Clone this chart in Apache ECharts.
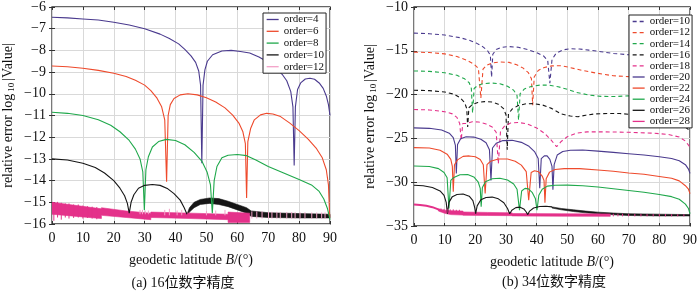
<!DOCTYPE html>
<html><head><meta charset="utf-8">
<script src="https://cdn.jsdelivr.net/npm/echarts@6/dist/echarts.min.js"></script>
<style>html,body{margin:0;padding:0;background:#fff}#c{width:700px;height:292px}</style>
</head><body><div id="c"></div>
<script>
// ---------- (a) 16-digit precision ----------
const xTicks = [0, 10, 20, 30, 40, 50, 60, 70, 80, 90];
const A_o4 = [[0,-6.47],[5,-6.5],[10,-6.55],[15,-6.6],[20,-6.7],[25,-6.83],[30,-7.0],[35,-7.25],[38,-7.45],[41,-7.7],[43,-7.95],[45,-8.25],[46.5,-8.55],[47.5,-8.95],[48.1,-9.6],[48.5,-13.2],[48.9,-9.6],[49.5,-8.9],[50.3,-8.5],[52,-8.2],[55,-8.03],[58,-8.0],[61,-8.05],[64,-8.12],[67,-8.3],[70,-8.55],[72.5,-8.8],[74.5,-9.1],[76,-9.4],[77.3,-9.9],[78,-10.6],[78.4,-13.3],[78.8,-10.6],[79.5,-9.8],[80.5,-9.5],[82,-9.32],[83.5,-9.28],[85,-9.33],[86.5,-9.5],[87.8,-9.75],[88.8,-10.1],[89.5,-10.5],[90,-11.0]];
const A_o6 = [[0,-8.72],[5,-8.75],[10,-8.82],[15,-8.92],[20,-9.05],[24,-9.2],[27,-9.38],[30,-9.6],[32,-9.85],[34,-10.2],[35.5,-10.6],[36.5,-11.2],[37.1,-14.05],[37.6,-11.0],[38.3,-10.5],[39.5,-10.22],[41.5,-10.05],[44,-10.0],[47,-10.05],[50,-10.18],[53,-10.38],[56,-10.65],[58.5,-10.98],[60.5,-11.35],[61.8,-11.75],[62.6,-12.3],[63.0,-14.8],[63.4,-12.2],[64.3,-11.6],[65.5,-11.2],[67.5,-10.97],[69.5,-10.9],[71.5,-10.93],[74,-11.05],[77,-11.35],[80,-11.7],[83,-12.1],[85.5,-12.5],[87.5,-12.95],[88.8,-13.5],[89.5,-14.2],[89.9,-15.7]];
const A_o8 = [[0,-10.85],[5,-10.9],[10,-11.0],[15,-11.2],[19,-11.45],[22,-11.75],[25,-12.15],[27,-12.55],[28.5,-13.0],[29.4,-13.6],[29.9,-15.35],[30.4,-13.5],[31.2,-12.9],[32.5,-12.45],[34.5,-12.2],[37,-12.1],[40,-12.15],[43,-12.35],[46,-12.7],[48.5,-13.1],[50.2,-13.6],[51.3,-14.2],[51.9,-15.5],[52.5,-14.0],[53.4,-13.35],[55,-12.95],[57,-12.83],[60,-12.8],[63,-12.85],[66,-13.05],[70,-13.35],[75,-13.65],[80,-13.95],[84,-14.2],[86.5,-14.5],[88,-14.85],[89.2,-15.3],[90,-15.8]];
const A_o10 = [[0,-13.0],[5,-13.05],[10,-13.2],[14,-13.4],[17,-13.65],[20,-14.0],[22,-14.35],[23.5,-14.7],[24.4,-15.05],[25,-15.5],[25.6,-15.0],[26.5,-14.65],[28,-14.35],[30,-14.22],[32.5,-14.18],[35,-14.22],[37.5,-14.38],[39.5,-14.6],[41.5,-14.9],[42.8,-15.25],[43.7,-15.55]];
const A_o10BandUp = [[43.7,-15.55],[44.5,-15.25],[46,-15.0],[48,-14.87],[51,-14.8],[54,-14.83],[57,-14.95],[60,-15.1],[63,-15.25],[64.5,-15.4],[70,-15.48],[80,-15.52],[90,-15.55]];
const A_o10BandLo = [[43.7,-15.6],[44.5,-15.45],[46,-15.25],[48,-15.1],[51,-15.05],[54,-15.1],[57,-15.2],[60,-15.35],[63,-15.5],[64.5,-15.65],[70,-15.7],[80,-15.72],[90,-15.72]];
const A_o12BandUp = [[0,-15.0],[8,-15.15],[16,-15.3],[16,-15.25],[24,-15.4],[32,-15.5],[32,-15.45],[45,-15.5],[57,-15.55],[57,-15.45],[64,-15.5]];
const A_o12BandLo = [[0,-15.55],[8,-15.65],[16,-15.75],[16,-15.6],[24,-15.7],[32,-15.8],[32,-15.7],[45,-15.75],[57,-15.8],[57,-15.93],[64,-15.93]];
const A_o12EdgeSpikes = [[0.6,-15.0,-15.85],[1.8,-14.98,-15.7],[3.0,-15.02,-15.8],[4.3,-15.05,-15.7],[5.5,-15.05,-15.75],[7,-15.1,-15.72],[8.5,-15.1,-15.7],[10,-15.15,-15.75],[11.5,-15.18,-15.72],[13,-15.2,-15.75],[14.5,-15.22,-15.78]];
const A_o12Spikes = [[28.5,-15.35,-15.55],[29.3,-15.35,-15.55],[30.2,-15.38,-15.55],[31.2,-15.38,-15.55],[36.5,-15.35,-15.6],[38,-15.3,-15.6],[40.5,-15.38,-15.6],[42,-15.35,-15.6],[50,-15.4,-15.6],[53,-15.38,-15.6],[56,-15.35,-15.6],[64.7,-15.42,-15.75],[66.3,-15.42,-15.75],[68,-15.42,-15.75],[70.1,-15.44,-15.75],[71.2,-15.44,-15.75],[72.8,-15.44,-15.75],[73.9,-15.45,-15.75],[76,-15.45,-15.75],[77.6,-15.45,-15.75],[78.7,-15.46,-15.75],[80.3,-15.46,-15.75],[81.9,-15.46,-15.75],[84.1,-15.47,-15.75],[85.7,-15.47,-15.75],[87.3,-15.47,-15.75],[88.4,-15.47,-15.75]];

// ---------- (b) 34-digit precision ----------
const B_o10 = [[0,-12.98],[5,-13.05],[10,-13.2],[15,-13.5],[18,-13.8],[20.5,-14.15],[22.5,-14.55],[24,-15.0],[24.9,-15.5],[25.3,-18.0],[25.7,-15.4],[26.8,-14.85],[28.5,-14.6],[31,-14.52],[34,-14.6],[37,-14.85],[40,-15.2],[42.3,-15.6],[43.6,-16.1],[44.3,-18.7],[45,-16.0],[46.3,-15.3],[48.5,-14.9],[51,-14.77],[54,-14.8],[57,-14.92],[61,-15.1],[65,-15.3],[70,-15.45],[75,-15.63],[80,-15.82],[84,-16.05],[86.5,-16.3],[88.5,-16.7],[89.5,-17.1],[90,-17.5]];
const B_o12 = [[0,-15.15],[5,-15.2],[10,-15.35],[14,-15.65],[17,-16.05],[19.5,-16.5],[21,-17.0],[21.8,-20.4],[22.5,-17.1],[23.7,-16.65],[25.5,-16.38],[28,-16.28],[31,-16.32],[33.5,-16.6],[35.5,-16.95],[37.3,-17.5],[38.3,-18.2],[38.7,-21.2],[39.2,-18.0],[40.5,-17.25],[42.5,-16.9],[45,-16.72],[48,-16.7],[51,-16.92],[55,-17.25],[60,-17.58],[65,-17.85],[70,-17.95],[75,-17.88],[80,-17.75],[84,-17.85],[87,-18.25],[89,-18.9],[90,-19.4]];
const B_o14 = [[0,-17.3],[5,-17.35],[10,-17.5],[14,-17.8],[16.5,-18.2],[18,-18.65],[18.7,-19.3],[19.1,-22.1],[19.6,-19.3],[20.8,-18.95],[22.5,-18.75],[25,-18.68],[28,-18.75],[30.5,-19.05],[32.5,-19.5],[33.6,-20.1],[34.1,-22.9],[34.6,-19.9],[36,-19.35],[38.5,-19.05],[41,-18.92],[44,-18.92],[47,-19.1],[50,-19.4],[53,-19.75],[57,-20.05],[61,-20.2],[65,-20.22],[70,-20.15],[75,-20.2],[80,-20.35],[84,-20.55],[87,-20.85],[89,-21.3],[90,-21.7]];
const B_o16 = [[0,-19.5],[5,-19.55],[10,-19.7],[13,-19.95],[15,-20.35],[16.5,-20.9],[17.2,-21.6],[17.5,-23.7],[17.9,-21.5],[19,-21.15],[20.8,-20.9],[23,-20.8],[25.5,-20.85],[27.5,-21.1],[29.2,-21.6],[30,-22.3],[30.4,-26.3],[30.8,-22.2],[32,-21.65],[34,-21.25],[36.5,-21.05],[39,-21.03],[42,-21.2],[45,-21.6],[48,-22.2],[51,-22.45],[53.5,-22.52],[56,-22.35],[59,-22.2],[63,-22.15],[67,-22.15],[72,-22.3],[78,-22.6],[84,-23.0],[88,-23.6],[90,-24.1]];
const B_o18 = [[0,-21.7],[5,-21.75],[10,-21.95],[12.5,-22.2],[14,-22.6],[14.9,-23.3],[15.4,-25.2],[15.9,-23.3],[17,-23.3],[19,-23.1],[21,-23.12],[23.5,-23.35],[25.5,-23.7],[26.8,-24.3],[27.5,-27.9],[28.2,-24.2],[29.5,-23.6],[31.5,-23.25],[34,-23.18],[37,-23.35],[40,-23.8],[42.5,-24.4],[44.5,-25.1],[46.5,-25.95],[48,-25.35],[50,-24.8],[53,-24.4],[56.5,-24.25],[62,-24.25],[70,-24.3],[78,-24.4],[83,-24.55],[86.5,-24.85],[88.5,-25.3],[90,-26.0]];
const B_o20 = [[0,-23.8],[5,-23.85],[9,-24.05],[11.5,-24.4],[12.8,-24.9],[13.5,-25.8],[13.8,-29.0],[14.2,-25.7],[15.2,-25.05],[17,-24.82],[19.5,-24.85],[21.8,-25.1],[23.5,-25.5],[24.6,-26.3],[25.1,-29.8],[25.6,-26.1],[26.8,-25.55],[29,-25.25],[32,-25.22],[35,-25.45],[37.5,-25.9],[39.3,-26.5],[40.5,-27.3],[41.0,-30.7],[41.5,-27.3],[42.5,-27.0],[43.4,-27.0],[44.3,-27.4],[45.0,-28.2],[45.3,-30.85],[45.7,-28.0],[46.7,-26.9],[48.5,-26.5],[51,-26.35],[55,-26.33],[60,-26.45],[65,-26.6],[70,-26.75],[75,-26.9],[80,-27.1],[84,-27.3],[86.5,-27.55],[88.5,-28.0],[89.5,-28.5],[90,-29.0]];
const B_o22 = [[0,-26.05],[5,-26.1],[8.5,-26.35],[10.8,-26.8],[12.0,-27.4],[12.5,-28.2],[12.8,-31.1],[13.2,-28.0],[14.2,-27.45],[16,-27.05],[18,-27.0],[20,-27.1],[21.6,-27.4],[22.6,-28.0],[23.2,-31.3],[23.8,-28.0],[25,-27.6],[27.5,-27.35],[30.5,-27.35],[33,-27.6],[35,-28.05],[36.6,-28.8],[37.4,-32.05],[38.2,-28.9],[39.3,-28.7],[40.6,-28.8],[41.8,-29.3],[42.4,-29.8],[42.7,-32.35],[43.1,-29.6],[44.2,-28.85],[46,-28.55],[49,-28.45],[54,-28.45],[60,-28.6],[65,-28.75],[70,-28.95],[75,-29.1],[80,-29.35],[84,-29.55],[86.5,-29.85],[88.5,-30.4],[89.5,-30.8],[90,-31.3]];
const B_o24 = [[0,-28.15],[5,-28.2],[8,-28.45],[9.8,-28.9],[10.8,-29.5],[11.4,-33.0],[12.0,-29.8],[13,-29.45],[15,-29.15],[17.5,-29.12],[19.5,-29.4],[20.9,-29.95],[21.6,-30.7],[21.9,-32.8],[22.3,-30.6],[23.3,-29.95],[25.5,-29.6],[28,-29.55],[30.5,-29.75],[32.5,-30.2],[33.6,-30.8],[34.4,-33.2],[35.1,-31.0],[36.2,-30.7],[37.3,-30.75],[38.6,-31.2],[39.6,-31.9],[40.1,-33.2],[40.7,-31.5],[41.8,-30.8],[43.5,-30.45],[46,-30.35],[50,-30.33],[55,-30.4],[60,-30.55],[65,-30.75],[70,-30.95],[75,-31.15],[80,-31.4],[84,-31.65],[86.5,-31.95],[88.5,-32.5],[89.5,-33.0],[90,-33.6]];
const B_o26 = [[0,-30.35],[3,-30.4],[6,-30.6],[8.5,-31.0],[9.8,-31.5],[10.5,-32.3],[10.9,-33.6],[11.4,-32.3],[12.5,-31.65],[14,-31.4],[16,-31.35],[18,-31.6],[19.2,-32.1],[19.8,-32.9],[20.1,-33.6],[20.6,-32.7],[21.8,-32.0],[23.5,-31.75],[25.5,-31.7],[27.5,-31.9],[29.3,-32.35],[30.5,-33.0],[31.2,-33.6],[31.9,-33.2],[33.2,-32.9],[34.6,-32.85],[35.8,-33.05],[36.6,-33.4],[37.1,-33.7],[37.7,-33.3],[39,-32.95],[41,-32.78],[43,-32.75],[45,-32.82]];
const B_o26BandUp = [[45,-32.82],[48,-33.0],[52,-33.15],[56,-33.3],[60,-33.42],[65,-33.52],[70,-33.6],[80,-33.65],[90,-33.7]];
const B_o26BandLo = [[45,-32.95],[48,-33.15],[52,-33.35],[56,-33.5],[60,-33.6],[65,-33.72],[70,-33.8],[80,-33.85],[90,-33.85]];
const B_o28 = [[0,-32.55],[2,-32.6],[4,-32.7],[6,-32.85],[7.5,-33.05],[8.5,-33.2]];
const B_o28BandUp = [[8,-33.05],[10,-33.2],[12,-33.25],[16,-33.3],[16,-33.4],[24,-33.45],[32,-33.5],[32,-33.58],[48,-33.6],[64,-33.62]];
const B_o28BandLo = [[8,-33.3],[10,-33.55],[12,-33.7],[16,-33.75],[16,-33.78],[24,-33.8],[32,-33.82],[32,-33.85],[48,-33.88],[64,-33.9]];
const B_o28Spikes = [[8.8,-33.0,-33.4],[9.8,-33.05,-33.5],[10.8,-33.05,-33.5],[11.8,-33.1,-33.6],[12.8,-33.1,-33.6],[13.8,-33.15,-33.6],[14.8,-33.15,-33.65],[65,-33.6,-33.9],[66.5,-33.6,-33.9],[68,-33.6,-33.9],[70,-33.62,-33.9],[72,-33.62,-33.9],[74,-33.62,-33.9],[76,-33.64,-33.9],[78,-33.64,-33.9],[80,-33.64,-33.9],[82,-33.64,-33.9],[84,-33.66,-33.9],[86,-33.66,-33.9],[88,-33.66,-33.9]];

const PURPLE = '#4a3a8e', RED = '#ee4a2c', GREEN = '#1fa84b', BLACK = '#161616', PINK = '#e4318a', LPINK = '#f3a2c8';
const FONT = '"Liberation Serif", "Noto Sans CJK SC", serif';
const minus = v => (v < 0 ? '\u2212' + Math.abs(v) : String(v));

function line(name, gi, data, color, dashed, width) {
  return { type: 'line', name, xAxisIndex: gi, yAxisIndex: gi, data, symbol: 'none', clip: true,
    lineStyle: { color, width: width || 1.1, type: dashed ? [4, 3] : 'solid' }, itemStyle: { color }, z: 3 };
}
function band(name, gi, up, lo, color) {
  return { type: 'custom', name, xAxisIndex: gi, yAxisIndex: gi, coordinateSystem: 'cartesian2d', clip: true, silent: true, z: 3,
    data: [up[0]],
    renderItem: (p, api) => {
      const pts = up.map(q => api.coord(q)).concat(lo.slice().reverse().map(q => api.coord(q)));
      return { type: 'polygon', shape: { points: pts }, style: { fill: color, stroke: color, lineWidth: 0.6 } };
    } };
}
function spikes(name, gi, data, color) {
  return { type: 'custom', name, xAxisIndex: gi, yAxisIndex: gi, coordinateSystem: 'cartesian2d', clip: true, silent: true, z: 4,
    data, encode: { x: 0, y: [1, 2] },
    renderItem: (p, api) => {
      const a = api.coord([api.value(0), api.value(1)]), b = api.coord([api.value(0), api.value(2)]);
      return { type: 'line', shape: { x1: a[0], y1: a[1], x2: b[0], y2: b[1] }, style: { stroke: color, lineWidth: 1 } };
    } };
}
function xAx(gi, top) {
  return { type: 'value', gridIndex: gi, min: 0, max: 90, interval: 10, position: top ? 'top' : 'bottom',
    axisLine: { show: false }, axisTick: { show: true, inside: true, length: 3, lineStyle: { color: '#333' } },
    axisLabel: { show: !top, fontSize: 14, fontFamily: FONT, color: '#111', margin: 7, formatter: minus },
    splitLine: { show: !top, lineStyle: { color: '#d9d9d9', width: 1 } },
    name: top ? '' : 'geodetic latitude {i|B}/(°)', nameLocation: 'middle', nameGap: 29,
    nameTextStyle: { fontSize: 14, fontFamily: FONT, color: '#111', rich: { i: { fontSize: 14, fontFamily: FONT, fontStyle: 'italic', color: '#111' } } } };
}
function yAx(gi, right, min, max, iv) {
  return { type: 'value', gridIndex: gi, min, max, interval: iv, position: right ? 'right' : 'left',
    axisLine: { show: false }, axisTick: { show: true, inside: true, length: 3, lineStyle: { color: '#333' } },
    axisLabel: { show: !right, fontSize: 14, fontFamily: FONT, color: '#111', margin: 6, formatter: minus },
    splitLine: { show: !right, lineStyle: { color: '#d9d9d9', width: 1 } },
    name: right ? '' : '{a|relative error log}{s|10}{a||Value|}', nameLocation: 'middle', nameGap: 36,
    nameTextStyle: { fontFamily: FONT, color: '#111', rich: {
      a: { fontSize: 14, fontFamily: FONT, color: '#111', lineHeight: 16 },
      s: { fontSize: 9, fontFamily: FONT, color: '#111', lineHeight: 16, verticalAlign: 'bottom', padding: [6, 2, 0, 2] } } } };
}
const legendCommon = { orient: 'vertical', itemWidth: 12, itemHeight: 10, itemTextGap: 2, selectedMode: false,
  backgroundColor: '#fff', borderColor: '#222', borderWidth: 1, borderRadius: 0, padding: [1, 2, 1, 3],
  itemStyle: { opacity: 0 }, lineStyle: { width: 1.3 },
  textStyle: { fontSize: 11, lineHeight: 10, fontFamily: FONT, color: '#111' }, formatter: n => n.replace(/^R /, '') };

const option = {
  animation: false,
  grid: [
    { left: 51, top: 6, width: 279, height: 218, show: true, borderColor: '#333', borderWidth: 1.3, backgroundColor: 'transparent' },
    { left: 414, top: 7, width: 281, height: 219, show: true, borderColor: '#333', borderWidth: 1.3, backgroundColor: 'transparent' }
  ],
  xAxis: [xAx(0, false), xAx(1, false), xAx(0, true), xAx(1, true)],
  yAxis: [yAx(0, false, -16, -6, 1), yAx(1, false, -35, -10, 5), yAx(0, true, -16, -6, 1), yAx(1, true, -35, -10, 5)],
  legend: [
    Object.assign({}, legendCommon, { left: 263, top: 13, itemGap: 0.8, data: ['order=4', 'order=6', 'order=8', 'order=10', 'order=12'] }),
    Object.assign({}, legendCommon, { left: 629, top: 15, itemGap: 0.1, data: ['R order=10', 'R order=12', 'R order=14', 'R order=16', 'R order=18', 'R order=20', 'R order=22', 'R order=24', 'R order=26', 'R order=28'] })
  ],
  graphic: [
    { type: 'text', x: 183, y: 283, style: { text: '(a) 16位数字精度', font: '14px ' + FONT, fill: '#111', align: 'center', verticalAlign: 'middle', textAlign: 'center', textVerticalAlign: 'middle' } },
    { type: 'text', x: 554, y: 282, style: { text: '(b) 34位数字精度', font: '14px ' + FONT, fill: '#111', align: 'center', verticalAlign: 'middle', textAlign: 'center', textVerticalAlign: 'middle' } }
  ],
  series: [
    line('order=4', 0, A_o4, PURPLE),
    line('order=6', 0, A_o6, RED),
    line('order=8', 0, A_o8, GREEN),
    line('order=10', 0, A_o10, BLACK),
    line('order=12', 0, [], LPINK),
    band('band10a', 0, A_o10BandUp, A_o10BandLo, BLACK),
    band('band12a', 0, A_o12BandUp, A_o12BandLo, PINK),
    spikes('spk12edge', 0, A_o12EdgeSpikes, PINK),
    spikes('spk12a', 0, A_o12Spikes, LPINK),
    line('R order=10', 1, B_o10, PURPLE, true),
    line('R order=12', 1, B_o12, RED, true),
    line('R order=14', 1, B_o14, GREEN, true),
    line('R order=16', 1, B_o16, BLACK, true),
    line('R order=18', 1, B_o18, PINK, true),
    line('R order=20', 1, B_o20, PURPLE),
    line('R order=22', 1, B_o22, RED),
    line('R order=24', 1, B_o24, GREEN),
    line('R order=26', 1, B_o26, BLACK),
    line('R order=28', 1, B_o28, PINK, false, 2),
    band('band26b', 1, B_o26BandUp, B_o26BandLo, BLACK),
    band('band28b', 1, B_o28BandUp, B_o28BandLo, PINK),
    spikes('spk28b', 1, B_o28Spikes, PINK)
  ]
};
const chart = echarts.init(document.getElementById('c'), null, { renderer: 'canvas' });
chart.setOption(option);
</script></body></html>
